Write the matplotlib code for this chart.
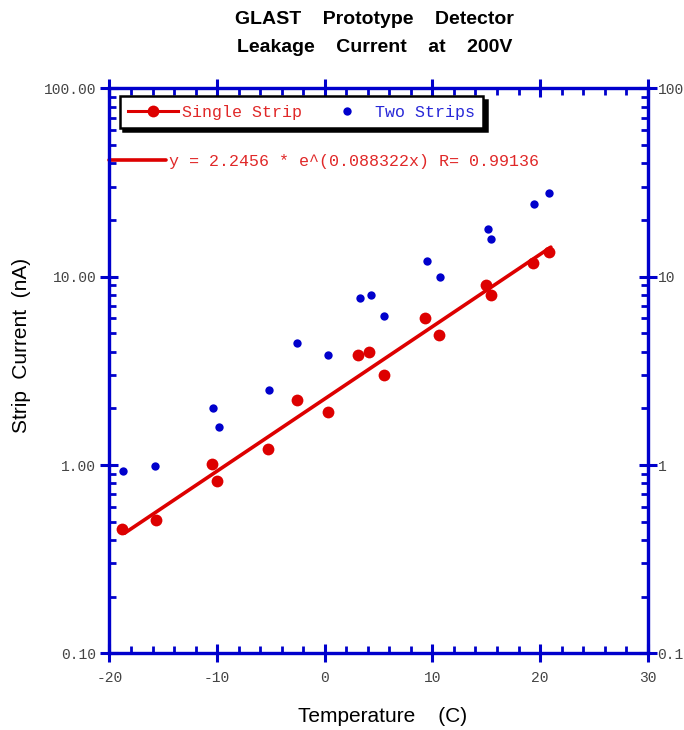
import numpy as np
import matplotlib
matplotlib.use('Agg')
import matplotlib.pyplot as plt
from matplotlib.lines import Line2D
from matplotlib.ticker import MultipleLocator, LogLocator, FormatStrFormatter, NullFormatter

# temperatures (C) and currents (nA)
temp_single = [-18.8, -15.7, -10.5, -10.0, -5.3, -2.6, 0.3, 3.1, 4.1, 5.5, 9.3, 10.6, 15.0, 15.4, 19.3, 20.8]
cur_single = [0.46, 0.51, 1.01, 0.82, 1.22, 2.21, 1.91, 3.82, 3.98, 2.99, 6.06, 4.92, 8.98, 7.96, 11.8, 13.6]

temp_two = [-18.7, -15.8, -10.4, -9.8, -5.2, -2.6, 0.3, 3.3, 4.3, 5.5, 9.5, 10.7, 15.2, 15.4, 19.4, 20.8]
cur_two = [0.93, 0.99, 2.01, 1.60, 2.49, 4.45, 3.82, 7.71, 7.96, 6.15, 12.1, 9.9, 18.0, 15.8, 24.3, 27.7]

# exponential fit given on the chart
fit_a = 2.2456
fit_b = 0.088322
fit_r = 0.99136
fit_range = [-18.6, 21.0]

xticks = [-20, -10, 0, 10, 20, 30]
yticks = [0.1, 1, 10, 100]

blue = '#0000cc'
red = '#dd0000'
mono = 'Liberation Mono'
sans = 'Liberation Sans'
plt.rcParams['axes.unicode_minus'] = False

fig = plt.figure(figsize=(6.84, 7.3), dpi=100)
ax = fig.add_axes([0.160, 0.105, 0.787, 0.774])

xf = np.linspace(fit_range[0], fit_range[1], 200)
fit_line, = ax.plot(xf, fit_a*np.exp(fit_b*xf), color=red, lw=2.6, solid_capstyle='round')
ax.plot(temp_single, cur_single, 'o', ms=8.5, color=red, mec='none')
ax.plot(temp_two, cur_two, 'o', ms=6, color=blue, mec='none')

ax.set_yscale('log')
ax.set_xlim(-20, 30)
ax.set_ylim(0.1, 100)
ax.set_xticks(xticks)
ax.set_yticks(yticks)
ax.xaxis.set_minor_locator(MultipleLocator(2))
ax.yaxis.set_minor_locator(LogLocator(base=10, subs=np.arange(2, 10)))
ax.yaxis.set_minor_formatter(NullFormatter())
ax.yaxis.set_major_formatter(FormatStrFormatter('%.2f'))

ax2 = ax.twinx()
ax2.set_yscale('log')
ax2.set_ylim(0.1, 100)
ax2.set_yticks(yticks)
ax2.yaxis.set_minor_locator(LogLocator(base=10, subs=np.arange(2, 10)))
ax2.yaxis.set_minor_formatter(NullFormatter())
ax2.yaxis.set_major_formatter(FormatStrFormatter('%g'))

for a in (ax, ax2):
	for s in a.spines.values():
		s.set_color(blue)
		s.set_linewidth(2.3)
ax.tick_params(which='major', direction='inout', length=13, width=2.2, color=blue,
	top=True, labelsize=10.5, labelcolor='#444444', pad=3)
ax.tick_params(which='minor', direction='in', length=5, width=2, color=blue, top=True)
ax.tick_params(axis='x', which='major', pad=6)
ax2.tick_params(which='major', direction='inout', length=13, width=2.2, color=blue,
	labelsize=10.5, labelcolor='#444444', pad=0.5)
ax2.tick_params(which='minor', direction='in', length=5, width=2, color=blue)
for lab in ax.get_xticklabels() + ax.get_yticklabels() + ax2.get_yticklabels():
	lab.set_family(mono)

fig.text(383/684, 1-716/730, 'Temperature    (C)', fontsize=15, family=sans,
	ha='center', va='center')
fig.text(22/684, 1-345/730, 'Strip  Current  (nA)', fontsize=15, family=sans,
	ha='center', va='center', rotation=90)

fig.text(0.548, 1-19/730, 'GLAST    Prototype    Detector', ha='center', va='center',
	fontsize=14, fontweight='bold', family=sans)
fig.text(0.548, 1-47/730, 'Leakage    Current    at    200V', ha='center', va='center',
	fontsize=14, fontweight='bold', family=sans)

# legends
h1 = Line2D([], [], color=red, lw=2.2, marker='o', ms=8.5, mec='none')
h2 = Line2D([], [], color=blue, ls='none', marker='o', ms=6, mec='none')
leg = ax2.legend([h1, h2], ['Single Strip', 'Two Strips'], ncol=2, loc='upper left',
	bbox_to_anchor=(0.0195, 0.986), borderaxespad=0, borderpad=0.5, handlelength=3.0,
	handletextpad=0.2, columnspacing=1.2, fancybox=False, edgecolor='black',
	framealpha=1, prop={'family': mono, 'size': 12},
	shadow={'color': 'black', 'alpha': 1, 'ox': 2.5, 'oy': -2.5})
leg.get_frame().set_linewidth(1.8)
leg.get_texts()[0].set_color('#e02828')
leg.get_texts()[1].set_color('#2828d8')

eq = 'y = %.4f * e^(%.6fx) R= %.5f' % (fit_a, fit_b, fit_r)
leg2 = ax.legend([fit_line], [eq], loc='center left', bbox_to_anchor=(0.0, 0.870),
	borderaxespad=0, borderpad=0, handlelength=3.37, handletextpad=0.2,
	frameon=False, prop={'family': mono, 'size': 12})
leg2.get_texts()[0].set_color('#e02828')

fig.savefig('out.png', dpi=100)
